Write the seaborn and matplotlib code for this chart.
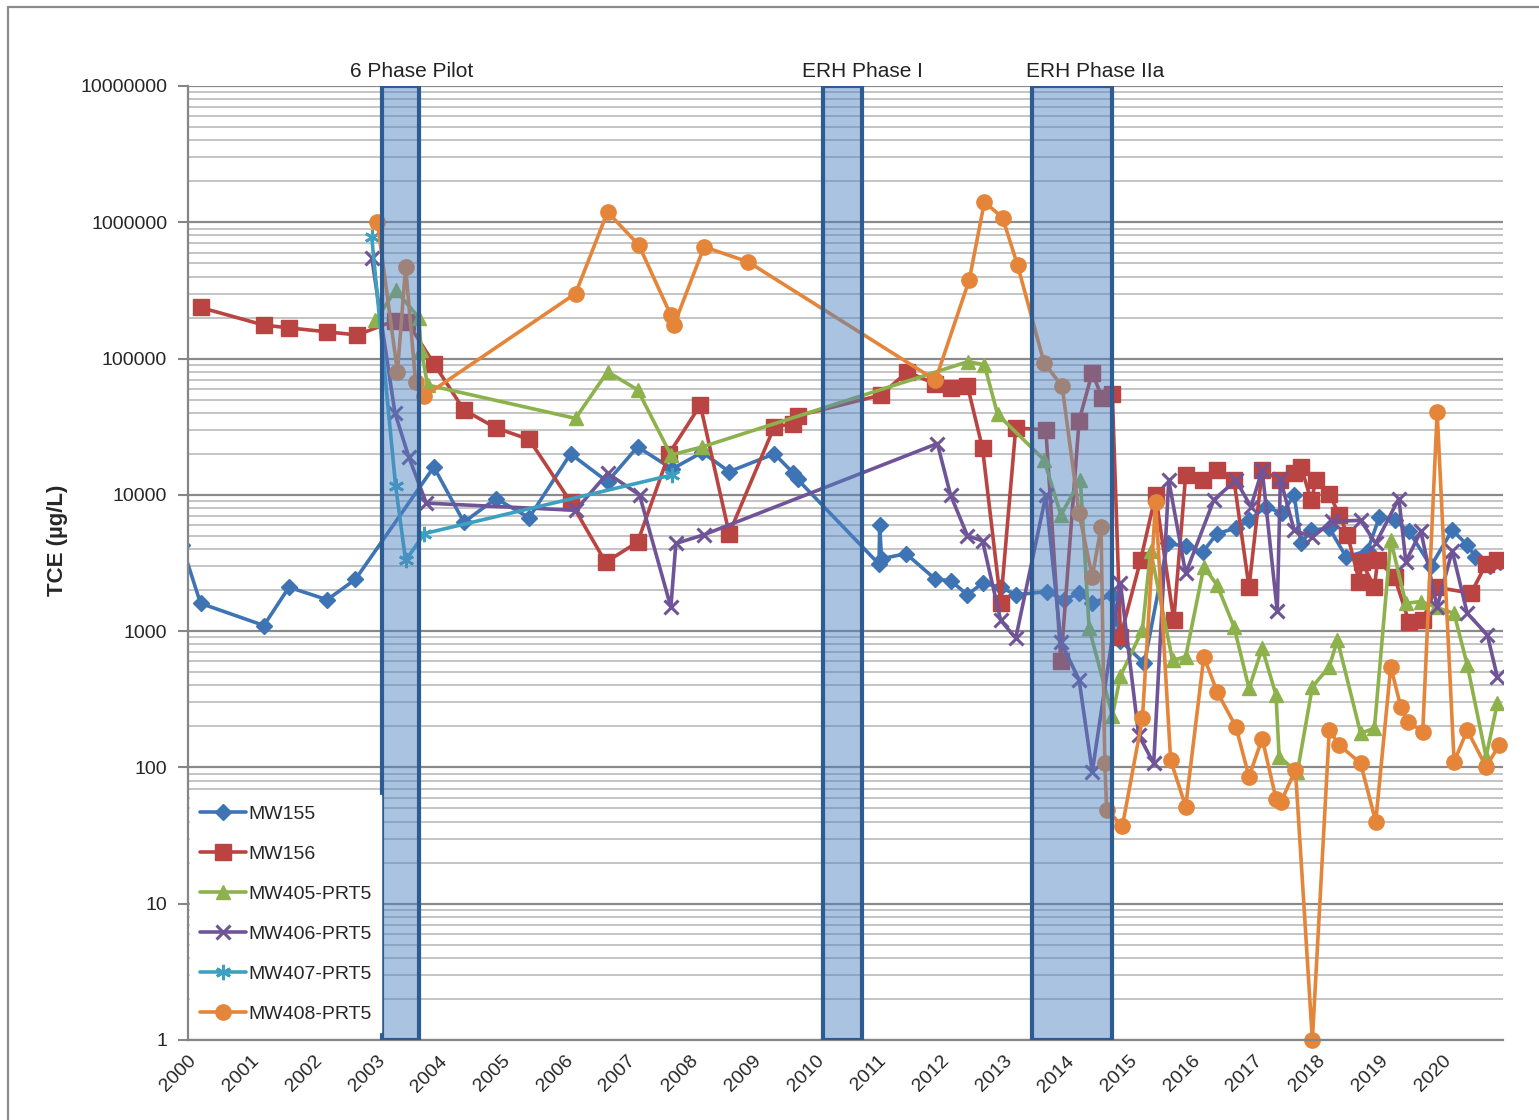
import numpy as np
import pandas as pd
import matplotlib
matplotlib.use("Agg")
import matplotlib.pyplot as plt
import matplotlib.ticker as mticker
from matplotlib.lines import Line2D
import seaborn as sns

# ---- TCE monitoring data (decimal year, concentration in ug/L) ----
mw155_t = [1999.9, 2000.2, 2001.21, 2001.61, 2002.22, 2002.67, 2003.92, 2004.40, 2004.91, 2005.44,
           2006.10, 2006.69, 2007.17, 2007.72, 2008.20, 2008.63, 2009.35, 2009.65, 2009.72, 2011.02,
           2011.03, 2011.06, 2011.45, 2011.92, 2012.16, 2012.43, 2012.67, 2012.96, 2013.20, 2013.70,
           2013.97, 2014.21, 2014.42, 2014.74, 2014.87, 2015.25, 2015.62, 2015.91, 2016.18, 2016.41,
           2016.71, 2016.92, 2017.19, 2017.45, 2017.64, 2017.75, 2017.91, 2018.20, 2018.47, 2018.81,
           2019.00, 2019.24, 2019.47, 2019.82, 2020.16, 2020.40, 2020.53, 2020.77, 2020.93]
mw155_v = [4300, 1600, 1100, 2100, 1700, 2400, 16000, 6300, 9400, 6800,
           20000, 12500, 22500, 15500, 20500, 14800, 20000, 14500, 13000, 3100,
           6000, 3400, 3700, 2400, 2350, 1850, 2250, 2100, 1850, 1950,
           1700, 1900, 1600, 1850, 850, 580, 4400, 4200, 3800, 5200,
           5700, 6500, 8200, 7300, 10000, 4400, 5500, 5700, 3500, 3900,
           6900, 6500, 5400, 3000, 5500, 4300, 3500, 3000, 3200]

mw156_t = [2000.2, 2001.21, 2001.61, 2002.22, 2002.70, 2003.30, 2003.50, 2003.92, 2004.40, 2004.91,
           2005.44, 2006.10, 2006.66, 2007.17, 2007.67, 2008.17, 2008.63, 2009.35, 2009.65, 2009.72,
           2011.05, 2011.47, 2011.92, 2012.16, 2012.43, 2012.67, 2012.96, 2013.20, 2013.68, 2013.92,
           2014.21, 2014.42, 2014.58, 2014.74, 2014.87, 2015.19, 2015.43, 2015.72, 2015.91, 2016.18,
           2016.41, 2016.68, 2016.92, 2017.13, 2017.42, 2017.64, 2017.75, 2017.91, 2017.99, 2018.20,
           2018.36, 2018.49, 2018.68, 2018.72, 2018.92, 2018.97, 2019.24, 2019.47, 2019.69, 2019.90,
           2020.46, 2020.70, 2020.88]
mw156_v = [237000, 176000, 168000, 157000, 149000, 190000, 185000, 92000, 42000, 31000,
           25500, 8900, 3200, 4500, 20000, 45600, 5200, 31700, 33000, 38000,
           54000, 80000, 65000, 61000, 63000, 22000, 1620, 31000, 30000, 600,
           35000, 79000, 51000, 55000, 910, 3300, 10000, 1200, 14000, 12800,
           15200, 12800, 2100, 15200, 12800, 14500, 16100, 9100, 12800, 10200,
           7100, 5100, 2300, 3200, 2100, 3300, 2500, 1170, 1200, 2100,
           1900, 3100, 3300]

mw405_t = [2002.99, 2003.31, 2003.68, 2003.72, 2003.82, 2006.18, 2006.69, 2007.17, 2007.70, 2008.20,
           2012.44, 2012.70, 2012.91, 2013.65, 2013.92, 2014.23, 2014.37, 2014.74, 2014.87, 2015.22,
           2015.35, 2015.70, 2015.91, 2016.20, 2016.41, 2016.68, 2016.92, 2017.13, 2017.35, 2017.40,
           2017.69, 2017.93, 2018.20, 2018.33, 2018.70, 2018.92, 2019.18, 2019.42, 2019.66, 2019.90,
           2020.19, 2020.40, 2020.70, 2020.88]
mw405_v = [191000, 318000, 200000, 115000, 64000, 36400, 80000, 59000, 19600, 22500,
           95000, 90000, 39000, 18100, 7100, 12900, 1050, 240, 470, 1020,
           3900, 610, 650, 2970, 2180, 1080, 380, 750, 340, 120,
           92, 390, 550, 860, 178, 194, 4660, 1600, 1650, 1500,
           1350, 564, 120, 295]

mw406_t = [2002.93, 2003.30, 2003.52, 2003.80, 2006.18, 2006.69, 2007.20, 2007.70, 2007.78, 2008.23,
           2011.95, 2012.16, 2012.43, 2012.67, 2012.96, 2013.20, 2013.68, 2013.92, 2014.21, 2014.42,
           2014.87, 2015.16, 2015.40, 2015.64, 2015.91, 2016.36, 2016.71, 2016.95, 2017.13, 2017.37,
           2017.42, 2017.64, 2017.93, 2018.25, 2018.70, 2018.94, 2019.31, 2019.42, 2019.66, 2019.92,
           2020.16, 2020.40, 2020.72, 2020.88]
mw406_v = [550000, 40000, 19000, 8700, 7700, 14400, 10000, 1500, 4400, 5100,
           23800, 10000, 5000, 4600, 1200, 890, 9900, 830, 440, 93,
           2240, 173, 107, 12800, 2650, 9200, 12800, 8200, 15200, 1400,
           13000, 5500, 4900, 6400, 6500, 4400, 9400, 3240, 5400, 1500,
           3900, 1350, 940, 460]

mw407_t = [2002.93, 2003.31, 2003.47, 2003.77, 2007.72]
mw407_v = [780000, 11700, 3300, 5200, 14000]

mw408_t = [2003.02, 2003.34, 2003.47, 2003.63, 2003.77, 2006.18, 2006.69, 2007.19, 2007.70, 2007.75,
           2008.23, 2008.93, 2011.92, 2012.46, 2012.70, 2012.99, 2013.23, 2013.65, 2013.94, 2014.21,
           2014.42, 2014.56, 2014.62, 2014.65, 2014.90, 2015.22, 2015.43, 2015.67, 2015.91, 2016.20,
           2016.41, 2016.71, 2016.92, 2017.13, 2017.35, 2017.43, 2017.66, 2017.93, 2018.20, 2018.36,
           2018.70, 2018.94, 2019.18, 2019.34, 2019.45, 2019.69, 2019.92, 2020.19, 2020.40, 2020.70,
           2020.91]
mw408_v = [1000000, 80000, 470000, 67000, 53000, 300000, 1190000, 680000, 208000, 176000,
           660000, 513000, 69500, 380000, 1410000, 1080000, 483000, 93500, 62500, 7300,
           2500, 5800, 107, 49, 37, 229, 8900, 113, 51.5, 650,
           360, 199, 85.5, 163, 59, 56, 96, 1.0, 188, 146,
           107, 40, 548, 279, 216, 183, 40700, 110, 188, 101,
           146]

series_names = ["MW155", "MW156", "MW405-PRT5", "MW406-PRT5", "MW407-PRT5", "MW408-PRT5"]
series_times = [mw155_t, mw156_t, mw405_t, mw406_t, mw407_t, mw408_t]
series_values = [mw155_v, mw156_v, mw405_v, mw406_v, mw407_v, mw408_v]

# remediation phases
phase_names = ["6 Phase Pilot", "ERH Phase I", "ERH Phase IIa"]
phase_start = [2003.09, 2010.13, 2013.46]
phase_end = [2003.68, 2010.75, 2014.74]
phase_label_x = [2003.57, 2010.75, 2014.47]

year_ticks = list(range(2000, 2021))

# ---- styling ----
colors = ["#3E74B4", "#BA4441", "#8DB24C", "#6F5597", "#3DA0C0", "#E5853A"]
markers = ["D", "s", "^", "x", (6, 2, 0), "o"]
msizes = [8, 11, 10, 10, 11, 11]
mews = [1, 1, 1, 2.2, 2.0, 1]

sns.set_theme(style="white")
plt.rcParams["font.family"] = ["Liberation Sans", "DejaVu Sans"]

fig = plt.figure(figsize=(15.39, 11.2), dpi=100)
ax = fig.add_axes([188 / 1539, 1 - 1040 / 1120, (1503 - 188) / 1539, (1040 - 86) / 1120])

frames = []
for name, t, v in zip(series_names, series_times, series_values):
    frames.append(pd.DataFrame({"year": t, "tce": v, "well": name}))
df = pd.concat(frames, ignore_index=True)

for i, name in enumerate(series_names):
    d = df[df["well"] == name]
    sns.lineplot(data=d, x="year", y="tce", ax=ax, color=colors[i], marker=markers[i],
                 markersize=msizes[i], markeredgecolor=colors[i], markeredgewidth=mews[i],
                 linewidth=2.6, sort=False, estimator=None, label=name, zorder=2,
                 clip_on=(name != "MW408-PRT5"))

ax.set_yscale("log")
ax.set_ylim(1, 1e7)
ax.set_xlim(2000, 2020.97)

# phase shading
for s, e in zip(phase_start, phase_end):
    ax.axvspan(s, e, facecolor=(0.31, 0.51, 0.76, 0.48), edgecolor="#2D5B92",
               linewidth=3.0, zorder=3)
for name, x in zip(phase_names, phase_label_x):
    ax.text(x, 1.0147, name, transform=ax.get_xaxis_transform(), ha="center",
            va="center", fontsize=15, color="#222222")

# grid
ax.yaxis.set_minor_locator(mticker.LogLocator(base=10, subs=np.arange(2, 10)))
ax.grid(which="major", axis="y", color="#8A8A8A", linewidth=1.6, zorder=0)
ax.grid(which="minor", axis="y", color="#C4C4C4", linewidth=1.4, zorder=0)
ax.grid(which="both", axis="x", visible=False)
ax.set_axisbelow(True)

ax.yaxis.set_major_locator(mticker.LogLocator(base=10, numticks=10))
ax.yaxis.set_major_formatter(mticker.FuncFormatter(lambda v, p: f"{int(round(v))}"))
ax.yaxis.set_minor_formatter(mticker.NullFormatter())
ax.set_xticks(year_ticks)
ax.set_xticklabels([str(y) for y in year_ticks], rotation=45, ha="right",
                   rotation_mode="anchor", fontsize=14)
ax.tick_params(axis="y", which="major", length=7, width=1.5, color="#868686",
               labelsize=14, pad=8, left=True)
ax.tick_params(axis="y", which="minor", length=0)
ax.tick_params(axis="x", which="major", length=0, pad=9, bottom=True)

for side in ["top", "right"]:
    ax.spines[side].set_visible(False)
for side in ["left", "bottom"]:
    ax.spines[side].set_color("#868686")
    ax.spines[side].set_linewidth(1.6)

ax.set_xlabel("")
ax.set_ylabel("TCE (µg/L)", fontsize=16, fontweight="bold")
ax.yaxis.set_label_coords(-0.091, 0.524)

leg = ax.legend(loc="lower left", bbox_to_anchor=(0.0015, 0.008), fontsize=14,
                frameon=True, fancybox=False, framealpha=1.0, facecolor="white",
                edgecolor="white", handlelength=2.4, handletextpad=0.1,
                labelspacing=1.15, borderpad=0.5, borderaxespad=0)
leg.set_zorder(5)

# outer chart frame
fig.add_artist(Line2D([8 / 1539, 1.0], [1 - 7 / 1120, 1 - 7 / 1120], transform=fig.transFigure,
                      color="#8C8C8C", linewidth=1.6))
fig.add_artist(Line2D([8 / 1539, 8 / 1539], [0, 1 - 7 / 1120], transform=fig.transFigure,
                      color="#8C8C8C", linewidth=1.6))

fig.savefig("out.png", dpi=100, facecolor="white")
